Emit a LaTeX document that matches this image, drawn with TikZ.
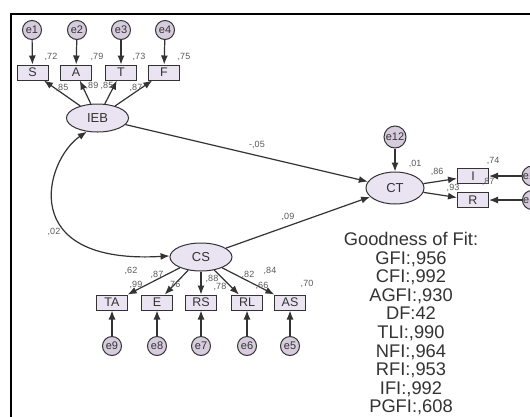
\documentclass[tikz,border=0pt]{standalone}
\usepackage{fontspec}
\setmainfont{Liberation Sans}
\usetikzlibrary{shapes.geometric,arrows.meta}
\definecolor{latfill}{HTML}{EAE3F2}
\definecolor{errfill}{HTML}{D6CCDD}
\definecolor{linec}{HTML}{333333}
\definecolor{lblc}{HTML}{5A5A5A}
\definecolor{txtc}{HTML}{333333}
\tikzset{
  lat/.style={ellipse, draw=linec, line width=1pt, fill=latfill, minimum width=62pt, minimum height=28pt, inner sep=0pt, text=txtc, font=\fontsize{13}{13}\selectfont},
  obs/.style={rectangle, draw=linec, line width=1pt, fill=latfill, minimum width=31pt, minimum height=15pt, inner sep=0pt, text=txtc, font=\fontsize{12.5}{12.5}\selectfont},
  err/.style={circle, draw=linec, line width=1pt, fill=errfill, minimum size=19pt, inner sep=0pt, text=txtc, font=\fontsize{11}{11}\selectfont},
  arr/.style={draw=linec, line width=1.2pt, -{Latex[length=9pt,width=7pt]}},
  arrb/.style={draw=linec, line width=1.2pt, {Latex[length=9pt,width=7pt]}-{Latex[length=9pt,width=7pt]}},
  lbl/.style={text=lblc, font=\fontsize{9}{9}\selectfont, inner sep=0pt},
}
\begin{document}
\begin{tikzpicture}[x=1pt,y=-1pt]
\useasboundingbox (0,0) rectangle (530,416);
\clip (0,0) rectangle (530,416);
\fill[white] (0,0) rectangle (530,416);
% frame
\draw[line width=2.2pt, black] (11,418) -- (11,14) -- (532,14);
% IEB block
\node[err] (e1) at (32,30) {e1};
\node[err] (e2) at (77,30) {e2};
\node[err] (e3) at (121,30) {e3};
\node[err] (e4) at (165,30) {e4};
\node[obs] (S) at (32.5,72.5) {S};
\node[obs] (A) at (76,72.5) {A};
\node[obs] (T) at (121,72.5) {T};
\node[obs] (F) at (164,72.5) {F};
\node[lat] (IEB) at (97.5,118) {IEB};
\foreach \e/\b in {e1/S,e2/A,e3/T,e4/F} \draw[arr] (\e) -- (\b);
\foreach \b in {S,A,T,F} \draw[arr] (IEB) -- (\b);
\node[lbl] at (51,57) {,72};
\node[lbl] at (97,57) {,79};
\node[lbl] at (139,57) {,73};
\node[lbl] at (184,57) {,75};
\node[lbl] at (62,88) {,85};
\node[lbl] at (92,86) {,89};
\node[lbl] at (107,86) {,85};
\node[lbl] at (136,88) {,87};
% CS block
\node[lat] (CS) at (201,257) {CS};
\node[obs] (TA) at (112,302.5) {TA};
\node[obs] (E) at (157,302.5) {E};
\node[obs] (RS) at (201,302.5) {RS};
\node[obs] (RL) at (247,302.5) {RL};
\node[obs] (AS) at (290,302.5) {AS};
\node[err] (e9) at (112,346) {e9};
\node[err] (e8) at (157,346) {e8};
\node[err] (e7) at (201,346) {e7};
\node[err] (e6) at (247,346) {e6};
\node[err] (e5) at (290,346) {e5};
\foreach \e/\b in {e9/TA,e8/E,e7/RS,e6/RL,e5/AS} \draw[arr] (\e) -- (\b);
\foreach \b in {TA,E,RS,RL,AS} \draw[arr] (CS) -- (\b);
\node[lbl] at (131,271) {,62};
\node[lbl] at (136,285) {,99};
\node[lbl] at (157,275) {,87};
\node[lbl] at (174,285) {,76};
\node[lbl] at (212,279) {,88};
\node[lbl] at (220,287) {,78};
\node[lbl] at (248,275) {,82};
\node[lbl] at (262,286) {,66};
\node[lbl] at (270,271) {,84};
\node[lbl] at (307,284) {,70};
% CT block
\node[lat, minimum width=58pt, minimum height=32pt] (CT) at (395,188) {CT};
\node[err, minimum size=22pt] (e12) at (395,137) {e12};
\node[obs] (I) at (473,176) {I};
\node[obs] (R) at (473,200) {R};
\node[err] (e10) at (532,176) {e10};
\node[err] (e11) at (532,200) {e11};
\draw[arr] (e12) -- (CT);
\draw[arr] (CT) -- (I);
\draw[arr] (CT) -- (R);
\draw[arr] (e10) -- (I);
\draw[arr] (e11) -- (R);
\node[lbl] at (415,164) {,01};
\node[lbl] at (437,172) {,86};
\node[lbl] at (453,188) {,93};
\node[lbl] at (493,161) {,74};
\node[lbl] at (488,182) {,87};
% structural paths
\draw[arr] (IEB) -- (CT);
\draw[arr] (CS) -- (CT);
\node[lbl] at (257,145) {-,05};
\node[lbl] at (288,217) {,09};
% covariance
\draw[arrb] (IEB.232) .. controls (45,160) and (15,265) .. (CS.178);
\node[lbl] at (54,232) {,02};
% goodness of fit
\node[text=txtc, align=center, anchor=north, inner sep=0pt, font=\fontsize{18.3}{18.6}\selectfont] (gof) at (411,232)
  {Goodness of Fit:\\GFI:,956\\CFI:,992\\AGFI:,930\\DF:42\\TLI:,990\\NFI:,964\\RFI:,953\\IFI:,992\\PGFI:,608};
\end{tikzpicture}
\end{document}
